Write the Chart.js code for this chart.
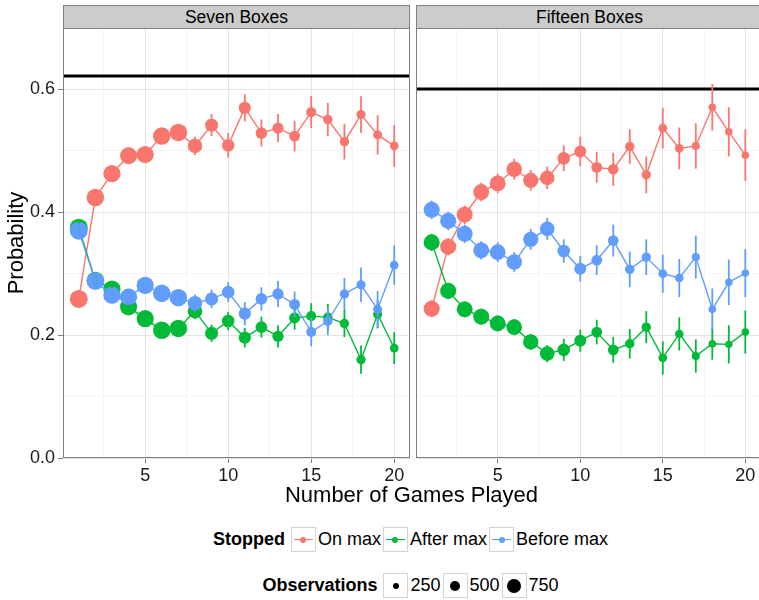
<!DOCTYPE html>
<html>
<head>
<meta charset="utf-8">
<script src="https://cdn.jsdelivr.net/npm/chart.js@4.4.0/dist/chart.umd.min.js"></script>
<style>
    body { margin: 0; background: #fff; overflow: hidden; }
    #wrap { position: relative; width: 759px; height: 600px; overflow: hidden; font-family: "Liberation Sans", Arial, sans-serif; color: #000; }
    canvas { position: absolute; top: 0; }
    .strip { position: absolute; top: 5px; height: 24px; box-sizing: border-box; background: #cccccc; border: 1px solid #7f7f7f;
             text-align: center; font-size: 17.5px; line-height: 22px; }
    #ytitle { position: absolute; left: -84px; top: 230px; width: 200px; height: 26px; line-height: 26px; text-align: center;
              font-size: 22px; transform: rotate(-90deg); }
    #xtitle { position: absolute; left: 63px; width: 697px; top: 482px; height: 26px; line-height: 26px; text-align: center; font-size: 22px; }
    .legend-row { position: absolute; left: 63px; width: 697px; height: 25px; display: flex; justify-content: center; align-items: center; font-size: 18px; }
    .legend-row b { margin-right: 6px; }
    .key { width: 25px; height: 25px; box-sizing: border-box; border: 1px solid #d4d4d4; position: relative; margin-right: 2px; }
    .key .ln { position: absolute; left: 2px; right: 2px; top: 11px; height: 1.4px; }
    .key .dot { position: absolute; border-radius: 50%; }
    .legend-row span { margin-right: 2px; }
</style>
</head>
<body>
<div id="wrap">
    <canvas id="seven" width="412" height="490" style="left:0"></canvas>
    <canvas id="fifteen" width="347" height="490" style="left:415px"></canvas>
    <div id="ytitle">Probability</div>
    <div id="xtitle">Number of Games Played</div>
    <div class="legend-row" id="stoppedLegend" style="top:527px"></div>
    <div class="legend-row" id="obsLegend" style="top:573px"></div>
</div>
<script>
// data
const games = [1, 2, 3, 4, 5, 6, 7, 8, 9, 10, 11, 12, 13, 14, 15, 16, 17, 18, 19, 20];
const seriesNames = ["On max", "After max", "Before max"];
const seriesColors = ["#F8766D", "#00BA38", "#619CFF"];
const panelTitles = ["Seven Boxes", "Fifteen Boxes"];
const optimalProb = [0.622, 0.600];

const sevenOnMax = [0.259, 0.424, 0.463, 0.492, 0.494, 0.524, 0.530, 0.508, 0.542, 0.509, 0.570, 0.529, 0.537, 0.524, 0.563, 0.551, 0.515, 0.559, 0.526, 0.508];
const sevenAfterMax = [0.375, 0.289, 0.275, 0.246, 0.227, 0.208, 0.211, 0.239, 0.203, 0.223, 0.196, 0.213, 0.198, 0.228, 0.231, 0.229, 0.219, 0.160, 0.234, 0.179];
const sevenBeforeMax = [0.370, 0.288, 0.265, 0.262, 0.281, 0.268, 0.261, 0.252, 0.259, 0.270, 0.235, 0.259, 0.267, 0.250, 0.205, 0.223, 0.267, 0.282, 0.242, 0.314];
const sevenOnMaxErr = [0.012, 0.012, 0.012, 0.012, 0.013, 0.013, 0.013, 0.015, 0.018, 0.020, 0.022, 0.022, 0.023, 0.025, 0.026, 0.027, 0.029, 0.030, 0.032, 0.034];
const sevenAfterMaxErr = [0.012, 0.011, 0.011, 0.011, 0.011, 0.011, 0.011, 0.013, 0.014, 0.015, 0.016, 0.017, 0.018, 0.019, 0.021, 0.022, 0.022, 0.023, 0.023, 0.026];
const sevenBeforeMaxErr = [0.012, 0.012, 0.012, 0.012, 0.012, 0.012, 0.012, 0.014, 0.015, 0.016, 0.019, 0.019, 0.021, 0.021, 0.023, 0.023, 0.026, 0.028, 0.030, 0.032];
const sevenObs = [1000, 970, 950, 940, 950, 970, 970, 780, 690, 660, 640, 600, 580, 560, 500, 470, 460, 450, 440, 420];

const fifteenOnMax = [0.243, 0.344, 0.396, 0.433, 0.447, 0.470, 0.452, 0.456, 0.488, 0.499, 0.473, 0.470, 0.507, 0.461, 0.537, 0.504, 0.508, 0.571, 0.531, 0.493];
const fifteenAfterMax = [0.351, 0.272, 0.242, 0.230, 0.219, 0.213, 0.189, 0.170, 0.176, 0.191, 0.205, 0.176, 0.186, 0.213, 0.163, 0.202, 0.166, 0.186, 0.185, 0.205];
const fifteenBeforeMax = [0.404, 0.386, 0.365, 0.338, 0.335, 0.319, 0.356, 0.373, 0.337, 0.308, 0.322, 0.354, 0.307, 0.327, 0.300, 0.293, 0.327, 0.242, 0.286, 0.301];
const fifteenOnMaxErr = [0.014, 0.014, 0.015, 0.015, 0.016, 0.017, 0.017, 0.018, 0.021, 0.024, 0.025, 0.027, 0.028, 0.030, 0.033, 0.034, 0.037, 0.038, 0.040, 0.042];
const fifteenAfterMaxErr = [0.014, 0.013, 0.013, 0.013, 0.013, 0.013, 0.013, 0.014, 0.018, 0.018, 0.020, 0.021, 0.024, 0.026, 0.027, 0.027, 0.027, 0.026, 0.031, 0.035];
const fifteenBeforeMaxErr = [0.015, 0.015, 0.015, 0.015, 0.016, 0.016, 0.017, 0.018, 0.019, 0.021, 0.024, 0.026, 0.029, 0.029, 0.031, 0.031, 0.035, 0.034, 0.037, 0.039];
const fifteenObs = [880, 880, 870, 870, 860, 850, 830, 790, 660, 620, 550, 540, 470, 460, 420, 410, 380, 350, 340, 340];

const obsBreaks = [250, 500, 750];
const xTicks = [2.5, 5, 7.5, 10, 12.5, 15, 17.5, 20];
const xMajor = [5, 10, 15, 20];
const yTicks = [0, 0.1, 0.2, 0.3, 0.4, 0.5, 0.6, 0.7];
const yMajor = [0, 0.2, 0.4, 0.6];

Chart.defaults.font.family = "'Liberation Sans', Arial, sans-serif";

// observations -> point radius (px)
function sizeFor(n) { return 1 + n / 125; }
function isMajor(list, v) { return list.some(m => Math.abs(m - v) < 1e-6); }

const refLine = {
    id: "refLine",
    beforeDatasetsDraw(chart, args, opts) {
        const { ctx, chartArea, scales } = chart;
        const py = Math.round(scales.y.getPixelForValue(opts.value));
        ctx.save();
        ctx.strokeStyle = "#000";
        ctx.lineWidth = 3;
        ctx.beginPath();
        ctx.moveTo(chartArea.left, py);
        ctx.lineTo(chartArea.right, py);
        ctx.stroke();
        ctx.restore();
    }
};

const errorBars = {
    id: "errorBars",
    afterDatasetsDraw(chart) {
        const { ctx, scales } = chart;
        chart.data.datasets.forEach(ds => {
            ctx.save();
            ctx.strokeStyle = ds.borderColor;
            ctx.lineWidth = 1.8;
            ds.data.forEach((p, j) => {
                const px = scales.x.getPixelForValue(p.x);
                ctx.beginPath();
                ctx.moveTo(px, scales.y.getPixelForValue(p.y - ds.errors[j]));
                ctx.lineTo(px, scales.y.getPixelForValue(p.y + ds.errors[j]));
                ctx.stroke();
            });
            ctx.restore();
        });
    }
};

const panelFrame = {
    id: "panelFrame",
    afterDraw(chart) {
        const { ctx, chartArea: a } = chart;
        ctx.save();
        ctx.strokeStyle = "#7f7f7f";
        ctx.lineWidth = 1;
        ctx.strokeRect(Math.round(a.left) + 0.5, Math.round(a.top) + 0.5, Math.round(a.right - a.left) - 1, Math.round(a.bottom - a.top) - 1);
        ctx.restore();
    }
};

// keep the plot area fixed, no extra room for edge labels
function noPad(scale) {
    scale.paddingLeft = 0;
    scale.paddingRight = 0;
    scale.paddingTop = 0;
    scale.paddingBottom = 0;
}

function makePanel(id, values, errors, obs, optimal, withYLabels) {
    const datasets = values.map((vals, s) => ({
        label: seriesNames[s],
        data: games.map((g, i) => ({ x: g, y: vals[i] })),
        errors: errors[s],
        borderColor: seriesColors[s],
        backgroundColor: seriesColors[s],
        pointBackgroundColor: seriesColors[s],
        borderWidth: 1.4,
        pointBorderWidth: 0,
        pointRadius: obs.map(sizeFor),
        pointHoverRadius: obs.map(sizeFor),
        tension: 0,
        fill: false,
        clip: 0,
        order: values.length - s
    }));

    const gridColor = (list) => (c) => isMajor(list, c.tick.value) ? "#e3e3e3" : "#f5f5f5";
    const tickColor = (list) => (c) => isMajor(list, c.tick.value) ? "#7f7f7f" : "rgba(0,0,0,0)";

    return new Chart(document.getElementById(id), {
        type: "line",
        data: { datasets: datasets },
        options: {
            responsive: false,
            animation: false,
            events: [],
            layout: {
                autoPadding: false,
                padding: { top: 28, right: withYLabels ? 2 : 1, left: withYLabels ? 0 : 1, bottom: 0 }
            },
            plugins: {
                legend: { display: false },
                tooltip: { enabled: false },
                refLine: { value: optimal }
            },
            scales: {
                x: {
                    type: "linear",
                    min: 0.05,
                    max: 20.95,
                    afterFit(scale) { scale.height = 32; noPad(scale); },
                    afterBuildTicks(scale) { scale.ticks = xTicks.map(v => ({ value: v })); },
                    border: { display: false },
                    grid: { color: gridColor(xMajor), tickColor: tickColor(xMajor), tickLength: 5, lineWidth: 1 },
                    ticks: {
                        autoSkip: false, maxRotation: 0, padding: 2, color: "#1a1a1a",
                        font: { size: 18 },
                        callback: v => isMajor(xMajor, v) ? String(v) : ""
                    }
                },
                y: {
                    type: "linear",
                    min: 0,
                    max: 0.7,
                    afterFit(scale) { scale.width = withYLabels ? 63 : 0; noPad(scale); },
                    afterBuildTicks(scale) { scale.ticks = yTicks.map(v => ({ value: v })); },
                    border: { display: false },
                    grid: { color: gridColor(yMajor), tickColor: tickColor(yMajor), tickLength: 5, lineWidth: 1, drawTicks: withYLabels },
                    ticks: {
                        display: withYLabels, padding: 3, color: "#1a1a1a",
                        font: { size: 18 },
                        callback: v => isMajor(yMajor, v) ? v.toFixed(1) : ""
                    }
                }
            }
        },
        plugins: [refLine, errorBars, panelFrame]
    });
}

makePanel("seven", [sevenOnMax, sevenAfterMax, sevenBeforeMax],
    [sevenOnMaxErr, sevenAfterMaxErr, sevenBeforeMaxErr], sevenObs, optimalProb[0], true);
makePanel("fifteen", [fifteenOnMax, fifteenAfterMax, fifteenBeforeMax],
    [fifteenOnMaxErr, fifteenAfterMaxErr, fifteenBeforeMaxErr], fifteenObs, optimalProb[1], false);

// facet strips
const wrap = document.getElementById("wrap");
[[63, 347], [416, 347]].forEach((pos, i) => {
    const d = document.createElement("div");
    d.className = "strip";
    d.style.left = pos[0] + "px";
    d.style.width = pos[1] + "px";
    d.textContent = panelTitles[i];
    wrap.appendChild(d);
});

// legends
const stopped = document.getElementById("stoppedLegend");
stopped.innerHTML = "<b>Stopped</b>";
seriesNames.forEach((name, s) => {
    const key = document.createElement("div");
    key.className = "key";
    key.innerHTML = `<div class="ln" style="background:${seriesColors[s]}"></div>` +
        `<div class="dot" style="background:${seriesColors[s]};width:6px;height:6px;left:8.5px;top:8.5px"></div>`;
    stopped.appendChild(key);
    const lab = document.createElement("span");
    lab.textContent = name;
    stopped.appendChild(lab);
});

const obsLeg = document.getElementById("obsLegend");
obsLeg.innerHTML = "<b>Observations</b>";
obsBreaks.forEach(n => {
    const r = sizeFor(n);
    const key = document.createElement("div");
    key.className = "key";
    key.innerHTML = `<div class="dot" style="background:#000;width:${2 * r}px;height:${2 * r}px;left:${11.5 - r}px;top:${11.5 - r}px"></div>`;
    obsLeg.appendChild(key);
    const lab = document.createElement("span");
    lab.textContent = n;
    obsLeg.appendChild(lab);
});
</script>
</body>
</html>
